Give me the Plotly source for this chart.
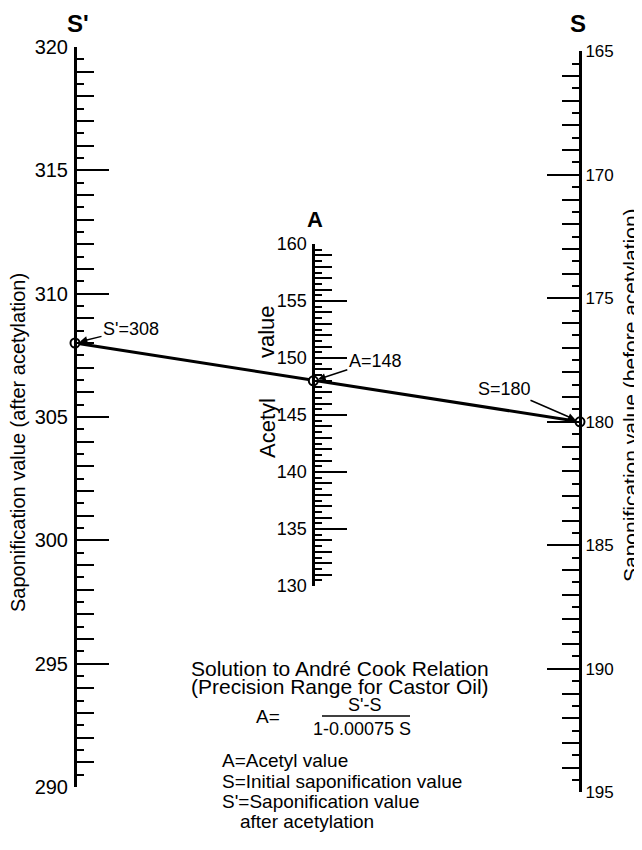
import plotly.graph_objects as go

W, H = 642, 850
OFF = 8  # page body margin in the browser; geometry below is in screen pixels

# ---------------- data ----------------
s_prime_range = [290, 320]          # S' scale (after acetylation)
a_range = [130, 160]                # A scale (acetyl value)
s_range = [195, 165]                # S scale (before acetylation), increases downward
s_prime_value = 308
a_value = 148
s_value = 180

s_prime_title = "Saponification value (after acetylation)"
s_title = "Saponification value (before acetylation)"
legend_lines = ["A=Acetyl value", "S=Initial saponification value",
                "S'=Saponification value", "after acetylation"]

# ---------------- geometry (screen pixels) ----------------
GEO = {
    "sp": dict(x=75.0, top=47.0, bottom=787.0, rng=s_prime_range),
    "a": dict(x=313.3, top=244.0, bottom=586.0, rng=a_range),
    "s": dict(x=580.0, top=51.3, bottom=792.3, rng=s_range),
}


def pix(key, v):
    g = GEO[key]
    r0, r1 = g["rng"]
    return g["bottom"] - (v - r0) / (r1 - r0) * (g["bottom"] - g["top"])


def val(key, p):
    g = GEO[key]
    r0, r1 = g["rng"]
    return r0 + (g["bottom"] - p) / (g["bottom"] - g["top"]) * (r1 - r0)


def py(p):
    return 1 - (p - OFF) / H


def pxf(x):
    return (x - OFF) / W


def dom(key):
    g = GEO[key]
    return [py(g["bottom"]), py(g["top"])]


TICKF = "Liberation Sans, Arial, sans-serif"
SANS = "Liberation Sans, Arial, sans-serif"

fig = go.Figure()

s_equiv = val("sp", pix("s", s_value))
fig.add_trace(go.Scatter(x=[GEO["sp"]["x"], GEO["s"]["x"]], y=[s_prime_value, s_equiv],
                         mode="lines", line=dict(color="black", width=3),
                         xaxis="x", yaxis="y", hoverinfo="skip", cliponaxis=False))

mk = dict(size=9, color="white", line=dict(color="black", width=2))
fig.add_trace(go.Scatter(x=[GEO["sp"]["x"]], y=[s_prime_value], mode="markers", marker=mk,
                         xaxis="x", yaxis="y", cliponaxis=False))
fig.add_trace(go.Scatter(x=[GEO["a"]["x"]], y=[a_value], mode="markers", marker=mk,
                         xaxis="x", yaxis="y2", cliponaxis=False))
fig.add_trace(go.Scatter(x=[GEO["s"]["x"]], y=[s_value], mode="markers", marker=mk,
                         xaxis="x", yaxis="y3", cliponaxis=False))
for ya in ["y4", "y5", "y6"]:
    fig.add_trace(go.Scatter(x=[None], y=[None], xaxis="x", yaxis=ya, showlegend=False))


def main_axis(key, side, fsize, standoff):
    g = GEO[key]
    return dict(
        domain=dom(key), range=g["rng"], anchor="free", position=pxf(g["x"]), side=side,
        automargin=False,
        showline=True, linewidth=3, linecolor="black", showgrid=False, zeroline=False,
        ticks="inside", ticklen=32, tickwidth=2, tickcolor="black",
        tickmode="linear", tick0=min(g["rng"]), dtick=5,
        minor=dict(ticks="inside", ticklen=17, tickwidth=2, tickcolor="black", dtick=1,
                   tick0=min(g["rng"]), showgrid=False),
        tickfont=dict(family=TICKF, size=fsize, color="black"),
        ticklabelstandoff=standoff,
    )


def fine_axis(key, side):
    g = GEO[key]
    return dict(
        domain=dom(key), range=g["rng"], anchor="free", position=pxf(g["x"]), side=side,
        automargin=False,
        showline=False, showgrid=False, zeroline=False, showticklabels=False,
        ticks="inside", ticklen=8, tickwidth=2, tickcolor="black",
        tickmode="linear", tick0=min(g["rng"]), dtick=0.5,
    )


fig.update_layout(
    template="none",
    width=W, height=H, margin=dict(l=0, r=0, t=0, b=0, pad=0, autoexpand=False),
    paper_bgcolor="white", plot_bgcolor="rgba(0,0,0,0)", showlegend=False,
    xaxis=dict(range=[OFF, W + OFF], domain=[0, 1], visible=False, fixedrange=True,
               automargin=False),
    yaxis=main_axis("sp", "left", 20, 2),
    yaxis2=main_axis("a", "left", 18, 2),
    yaxis3=main_axis("s", "right", 17, 0),
    yaxis4=fine_axis("sp", "left"),
    yaxis5=fine_axis("a", "left"),
    yaxis6=fine_axis("s", "right"),
)

ann = []


def txt(text, x, y, size, angle=0, xanchor="center", bold=False):
    ann.append(dict(text=f"<b>{text}</b>" if bold else text, x=x, y=py(y), xref="x", yref="paper",
                    xanchor=xanchor, yanchor="middle", showarrow=False, textangle=angle,
                    font=dict(family=SANS, size=size, color="black")))


txt("S'", 78, 24, 24, bold=True)
txt("S", 578, 24, 24, bold=True)
txt("A", 315, 219, 22, bold=True)
txt(s_prime_title, 18, 443, 20, angle=-90)
txt(s_title, 630, 395, 21, angle=-90)
txt("value", 267, 332, 22, angle=-90)
txt("Acetyl", 267, 428, 22, angle=-90)

lab_font = dict(family=SANS, size=18, color="black")
for text, key, v, yref, ax, ay in [
    (f"S'={s_prime_value}", "sp", s_prime_value, "y", 56, -14),
    (f"A={a_value}", "a", a_value, "y2", 62, -20),
    (f"S={s_value}", "s", s_value, "y3", -76, -33),
]:
    ann.append(dict(text=text, x=GEO[key]["x"], y=v, xref="x", yref=yref, ax=ax, ay=ay,
                    showarrow=True, arrowhead=2, arrowsize=1, arrowwidth=1.5, standoff=5,
                    arrowcolor="black", font=lab_font))

txt("Solution to André Cook Relation", 340, 668, 21)
txt("(Precision Range for Castor Oil)", 340, 686, 21)
txt("A=", 268, 716, 19)
txt("S'-S", 364, 705, 18)
txt("1-0.00075 S", 362, 729, 18)
leg_y = [760, 781, 801, 821]
leg_x = [220, 220, 220, 238]
for t, yy, xx in zip(legend_lines, leg_y, leg_x):
    txt(t, xx, yy, 19, xanchor="left")

fig.update_layout(annotations=ann)
fig.add_shape(type="line", x0=322, x1=410, y0=py(716), y1=py(716), xref="x", yref="paper",
              line=dict(color="black", width=1.5))

fig.write_html("out.html")
